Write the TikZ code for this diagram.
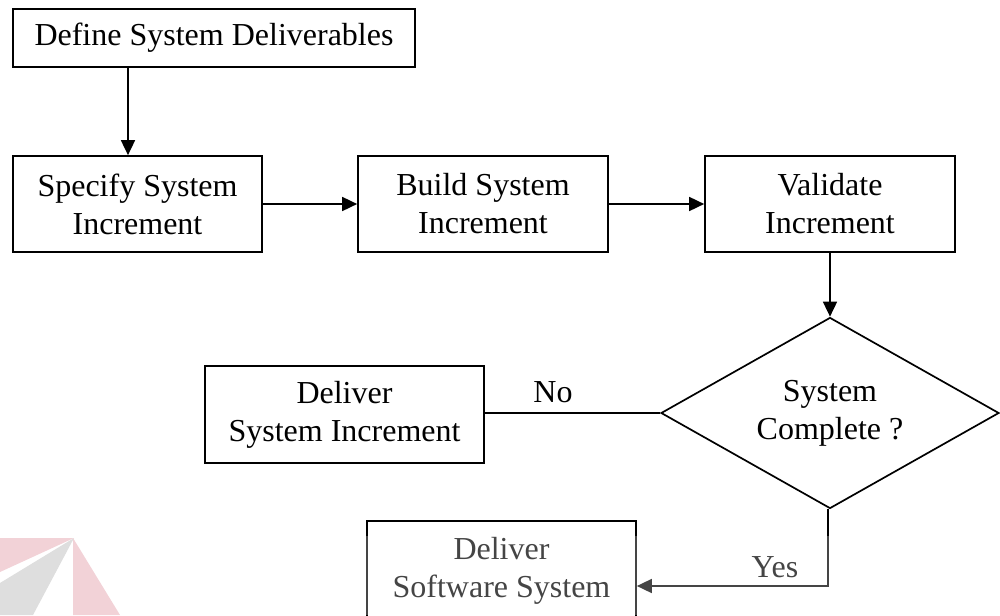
\documentclass[tikz,border=0pt]{standalone}
\usepackage{fontspec}
\setmainfont{Liberation Serif}
\usetikzlibrary{arrows.meta,shapes.geometric}
\definecolor{logopink}{HTML}{F2D2D7}
\definecolor{logogray}{HTML}{DEDEDE}
\begin{document}
\begin{tikzpicture}[x=1pt,y=-1pt,
  line width=1.7pt,
  txt/.style={font=\fontsize{32}{38}\selectfont, align=center},
  stepbox/.style={txt, draw, rectangle, inner sep=0pt},
  decision/.style={txt, draw, diamond, inner sep=0pt, aspect=1.77,
    minimum width=338pt, minimum height=191pt},
  arr/.style={-{Triangle[length=15pt,width=14pt]}},
  lbl/.style={font=\fontsize{32}{38}\selectfont, anchor=base, inner sep=0pt}]
\useasboundingbox (0,0) rectangle (1000,615);

% process boxes
\node[stepbox, minimum width=402pt, minimum height=58pt] (def) at (214,38)
  {Define System Deliverables};
\node[stepbox, minimum width=249pt, minimum height=96pt] (spec) at (137.5,204)
  {Specify System\\Increment};
\node[stepbox, minimum width=250pt, minimum height=96pt] (build) at (483,204)
  {Build System\\Increment};
\node[stepbox, minimum width=250pt, minimum height=96pt] (valid) at (830,204)
  {Validate\\Increment};
\node[decision] (dec) at (830,413) {System\\Complete ?};
\node[stepbox, minimum width=279pt, minimum height=97pt] (dsi) at (344.5,414.5)
  {Deliver\\System Increment};
\node[stepbox, minimum width=269pt, minimum height=99pt] (dss) at (501.5,570.5)
  {Deliver\\Software System};

% connectors
\draw[arr] ([xshift=-86pt]def.south) -- ([xshift=-9.5pt]spec.north);
\draw[arr] (spec) -- (build);
\draw[arr] (build) -- (valid);
\draw[arr] (valid) -- (dec);
\draw (dec.west) -- (dec.west -| dsi.east);
\draw[arr] ([xshift=-2pt]dec.south) |- ([yshift=-15.5pt]dss.east);

% branch labels
\node[lbl] (no) at (553,402) {No};
\node[lbl] (yes) at (775,577) {Yes};

% faded lower band
\fill[white, fill opacity=0.27] (0,536) rectangle (1000,615);

% corner emblem
\fill[logopink] (0,538) -- (74,538) -- (0,572) -- cycle;
\fill[logogray] (74,538) -- (0,583) -- (0,615) -- (33,615) -- cycle;
\fill[logopink] (73,538) -- (73,615) -- (120,615) -- cycle;
\end{tikzpicture}
\end{document}
